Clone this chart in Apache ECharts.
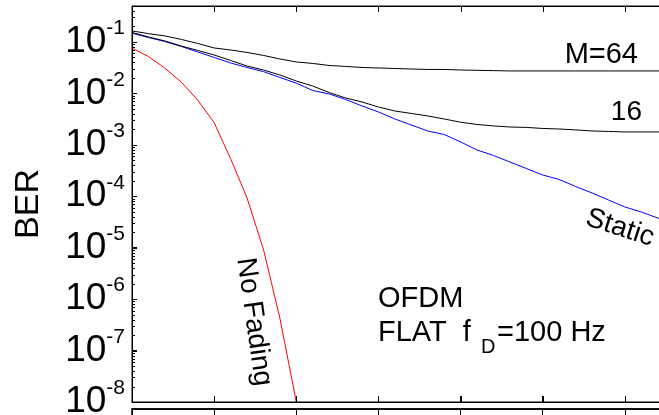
<!DOCTYPE html>
<html>
<head>
<meta charset="utf-8">
<script src="https://cdn.jsdelivr.net/npm/echarts@6/dist/echarts.min.js"></script>
<style>
html, body { margin: 0; padding: 0; background: #fff; }
#chart { width: 659px; height: 415px; }
</style>
</head>
<body>
<div id="chart"></div>
<script>
// Eb/N0 (dB) sample points
const snrDb = [0, 1, 2, 3, 4, 5, 6, 7, 8, 9, 10, 11, 12, 13, 14, 15, 16, 17, 18, 19, 20,
  21, 22, 23, 24, 25, 26, 27, 28, 29, 30, 31, 32, 33];
const snrNoFading = [0, 1, 2, 3, 4, 5, 6, 7, 8, 9, 10];

// BER values
const berNoFading = [0.076, 0.052, 0.031, 0.0166, 0.0074, 0.0027, 5.4e-4, 9.3e-5, 9.3e-6, 4.3e-7, 1e-8];
const berStatic = [0.148, 0.122, 0.102, 0.0818, 0.0639, 0.050, 0.0391, 0.0319, 0.0265, 0.0204, 0.0158,
  0.0114, 0.00975, 0.00762, 0.0057, 0.00436, 0.00318, 0.00243, 0.00186, 0.00159, 0.00114,
  7.94e-4, 6.21e-4, 4.64e-4, 3.47e-4, 2.59e-4, 2.12e-4, 1.55e-4, 1.16e-4, 8.47e-5, 6.19e-5,
  4.95e-5, 3.78e-5, 2.89e-5];
const berM16 = [0.153, 0.125, 0.1045, 0.0835, 0.0683, 0.0558, 0.0437, 0.0341, 0.0285, 0.0228, 0.0174,
  0.0139, 0.0104, 0.00814, 0.00681, 0.00544, 0.00455, 0.00407, 0.00364, 0.00318, 0.00275,
  0.00249, 0.00233, 0.00222, 0.00218, 0.00208, 0.00203, 0.00195, 0.00186, 0.00182, 0.00178,
  0.00178, 0.00178, 0.00178];
const berM64 = [0.164, 0.145, 0.131, 0.112, 0.0935, 0.0764, 0.0698, 0.0625, 0.0547, 0.0467, 0.0408,
  0.0382, 0.0349, 0.0334, 0.0319, 0.0312, 0.0305, 0.0298, 0.0292, 0.0292, 0.0285,
  0.0281, 0.0277, 0.0273, 0.0273, 0.0273, 0.0273, 0.0273, 0.0273, 0.0273, 0.0273,
  0.0273, 0.0273, 0.0273];

// decades shown on the y axis, x tick values
const yDecades = [-8, -7, -6, -5, -4, -3, -2, -1];
const xTicks = [0, 5, 10, 15, 20, 25, 30, 35];
const yMin = 1e-8, yMax = 0.5;
const xMin = 0, xMax = 35;

// plot box (the right edge runs past the window, as in the source figure)
const G = { left: 132, top: 6, width: 575, height: 396 };

const FONT = "'Liberation Sans', Arial, Helvetica, sans-serif";

function zip(xs, ys) {
  return ys.map((y, i) => [xs[i], y]);
}

// minor tick positions (in exponent space) for the overlay axis
const minorTicks = [];
yDecades.forEach(d => {
  for (let k = 2; k <= 9; k++) minorTicks.push(d + Math.log10(k));
});

const texts = [
  { id: 't1', type: 'text', x: 638, y: 55, style: { text: 'M=64', font: '29px ' + FONT, fill: '#000', align: 'right', verticalAlign: 'middle' } },
  { id: 't2', type: 'text', x: 642, y: 112, style: { text: '16', font: '28px ' + FONT, fill: '#000', align: 'right', verticalAlign: 'middle' } },
  { id: 't3', type: 'text', x: 620, y: 228, rotation: -18 * Math.PI / 180, style: { text: 'Static', font: '28px ' + FONT, fill: '#000', align: 'center', verticalAlign: 'middle' } },
  { id: 't4', type: 'text', x: 254, y: 322, rotation: -82 * Math.PI / 180, style: { text: 'No Fading', font: '28px ' + FONT, fill: '#000', align: 'center', verticalAlign: 'middle' } },
  { id: 't5', type: 'text', x: 378, y: 299, style: { text: 'OFDM', font: '29px ' + FONT, fill: '#000', align: 'left', verticalAlign: 'middle' } },
  { id: 't6', type: 'text', x: 378, y: 333, style: { text: 'FLAT  f', font: '29px ' + FONT, fill: '#000', align: 'left', verticalAlign: 'middle' } },
  { id: 't7', type: 'text', x: 481, y: 347, style: { text: 'D', font: '20px ' + FONT, fill: '#000', align: 'left', verticalAlign: 'middle' } },
  { id: 't8', type: 'text', x: 497, y: 333, style: { text: '=100 Hz', font: '29px ' + FONT, fill: '#000', align: 'left', verticalAlign: 'middle' } },
  // plot frame on its own layer so nothing can cover it
  { id: 'frame', type: 'polyline', zlevel: 1, z: 100, silent: true,
    shape: { points: [[G.left + G.width, G.top + 0.5], [G.left + 0.5, G.top + 0.5], [G.left + 0.5, G.top + G.height + 0.5], [G.left + G.width, G.top + G.height + 0.5]] },
    style: { stroke: '#000', lineWidth: 1, fill: null } }
];

const chart = echarts.init(document.getElementById('chart'));

const option = {
  animation: false,
  grid: [
    { left: G.left, top: G.top, width: G.width, height: G.height, outerBoundsMode: 'none', show: true, borderColor: '#000', borderWidth: 1 },
    { left: G.left, top: 409, width: G.width, height: 100, outerBoundsMode: 'none', show: true, borderColor: '#000', borderWidth: 1.5 }
  ],
  xAxis: [
    {
      type: 'value', gridIndex: 0, min: xMin, max: xMax, interval: 5,
      axisLine: { show: true, onZero: false, lineStyle: { color: '#000' } },
      axisTick: { show: true, inside: true, length: 6, lineStyle: { color: '#000' } },
      axisLabel: { show: false }, splitLine: { show: false }
    },
    {
      type: 'value', gridIndex: 1, position: 'top', min: xMin, max: xMax, interval: 5,
      axisLine: { show: true, onZero: false, lineStyle: { color: '#000', width: 1.5 } },
      axisTick: { show: true, inside: true, length: 6, lineStyle: { color: '#000' } },
      axisLabel: { show: false }, splitLine: { show: false }
    }
  ],
  yAxis: [
    {
      type: 'log', gridIndex: 0, min: yMin, max: yMax, interval: 1,
      name: 'BER', nameLocation: 'middle', nameRotate: 90, nameGap: 86,
      nameTextStyle: { fontSize: 34, color: '#000', fontFamily: FONT },
      axisLine: { show: true, onZero: false, lineStyle: { color: '#000' } },
      axisTick: { show: true, inside: true, length: 5, lineStyle: { color: '#000' } },
      axisLabel: {
        margin: 7,
        color: '#000',
        showMaxLabel: false,
        hideOverlap: false,
        formatter: function (v) {
          return '{b|10}{s|' + Math.round(Math.log10(v)) + '}';
        },
        rich: {
          b: { fontSize: 37, lineHeight: 48, fontFamily: FONT, color: '#000' },
          s: { fontSize: 21, lineHeight: 21, fontFamily: FONT, color: '#000', verticalAlign: 'top' }
        }
      },
      splitLine: { show: false }
    },
    {
      // overlay axis carrying only the small log ticks
      type: 'value', gridIndex: 0, min: -8, max: Math.log10(yMax),
      axisLine: { show: false, onZero: false },
      axisTick: { show: true, inside: true, length: 3, customValues: minorTicks, lineStyle: { color: '#000' } },
      axisLabel: { show: false },
      splitLine: { show: false }
    },
    {
      type: 'value', gridIndex: 1, min: 0, max: 1,
      axisLine: { show: true, onZero: false, lineStyle: { color: '#000' } },
      axisTick: { show: false },
      axisLabel: { show: false },
      splitLine: { show: false }
    }
  ],
  series: [
    {
      name: 'No Fading', type: 'line', xAxisIndex: 0, yAxisIndex: 0,
      data: zip(snrNoFading, berNoFading), showSymbol: false,
      lineStyle: { color: '#ff0000', width: 1 }
    },
    {
      name: 'Static', type: 'line', xAxisIndex: 0, yAxisIndex: 0,
      data: zip(snrDb, berStatic), showSymbol: false,
      lineStyle: { color: '#0000ff', width: 1 }
    },
    {
      name: 'M=16', type: 'line', xAxisIndex: 0, yAxisIndex: 0,
      data: zip(snrDb, berM16), showSymbol: false,
      lineStyle: { color: '#000', width: 1 }
    },
    {
      name: 'M=64', type: 'line', xAxisIndex: 0, yAxisIndex: 0,
      data: zip(snrDb, berM64), showSymbol: false,
      lineStyle: { color: '#000', width: 1 }
    }
  ],
  graphic: texts
};

chart.setOption(option);

// tick marks on the frame layer, placed through the chart's own scales
try {
  const marks = [];
  const toPx = p => chart.convertToPixel({ xAxisIndex: 0, yAxisIndex: 0 }, p);
  xTicks.slice(1, -1).forEach((v, i) => {
    const top = toPx([v, yMax]);
    const bot = toPx([v, yMin]);
    marks.push({ id: 'xt' + i, type: 'line', zlevel: 1, silent: true,
      shape: { x1: Math.round(top[0]) + 0.5, y1: top[1], x2: Math.round(top[0]) + 0.5, y2: top[1] + 6 }, style: { stroke: '#000', lineWidth: 1 } });
    marks.push({ id: 'xb' + i, type: 'line', zlevel: 1, silent: true,
      shape: { x1: Math.round(bot[0]) + 0.5, y1: bot[1], x2: Math.round(bot[0]) + 0.5, y2: bot[1] - 6 }, style: { stroke: '#000', lineWidth: 1 } });
  });
  yDecades.forEach((d, i) => {
    const p = toPx([xMin, Math.pow(10, d)]);
    marks.push({ id: 'yt' + i, type: 'line', zlevel: 1, silent: true,
      shape: { x1: p[0], y1: Math.round(p[1]) + 0.5, x2: p[0] + 5, y2: Math.round(p[1]) + 0.5 }, style: { stroke: '#000', lineWidth: 1 } });
    for (let k = 2; k <= 9; k++) {
      const v = k * Math.pow(10, d);
      if (v > yMax) break;
      const q = toPx([xMin, v]);
      marks.push({ id: 'ym' + i + '_' + k, type: 'line', zlevel: 1, silent: true,
        shape: { x1: q[0], y1: Math.round(q[1]) + 0.5, x2: q[0] + 3, y2: Math.round(q[1]) + 0.5 }, style: { stroke: '#000', lineWidth: 1 } });
    }
  });
  if (marks.every(m => isFinite(m.shape.x1) && isFinite(m.shape.y1))) {
    chart.setOption({ graphic: texts.concat(marks) });
  }
} catch (e) {
  // keep the chart as drawn if conversion is not available
}
</script>
</body>
</html>
